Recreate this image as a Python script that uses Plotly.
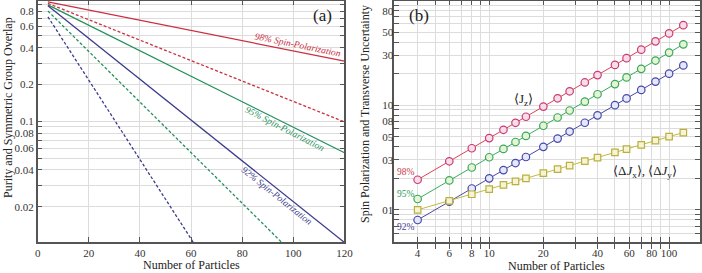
import plotly.graph_objects as go

# ---------- Panel (a) data: straight lines on log scale (endpoints)
a_x_98_solid = [4, 120]
a_y_98_solid = [0.952, 0.311]
a_x_98_dash = [4, 120]
a_y_98_dash = [0.924, 0.099]
a_x_95_solid = [4, 120]
a_y_95_solid = [0.90, 0.0553]
a_x_95_dash = [4, 95.5]
a_y_95_dash = [0.80, 0.0102]
a_x_92_solid = [4, 120]
a_y_92_solid = [0.883, 0.0102]
a_x_92_dash = [4, 60.9]
a_y_92_dash = [0.718, 0.0102]

# ---------- Panel (b) data
b_n = [4, 6, 8, 10, 12, 14, 16, 20, 24, 28, 34, 40, 50, 58, 70, 84, 100, 120]
b_jz_98 = [1.94, 2.91, 3.88, 4.85, 5.82, 6.79, 7.76, 9.7, 11.64, 13.58, 16.49, 19.4,
           24.25, 28.13, 33.95, 40.74, 48.5, 58.2]
b_jz_95 = [1.27, 1.91, 2.54, 3.18, 3.82, 4.45, 5.09, 6.36, 7.63, 8.9, 10.81, 12.72,
           15.9, 18.44, 22.26, 26.71, 31.8, 38.16]
b_jz_92 = [0.8, 1.2, 1.6, 2.0, 2.4, 2.8, 3.2, 4.0, 4.8, 5.6, 6.8, 8.0,
           10.0, 11.6, 14.0, 16.8, 20.0, 24.0]
b_djx = [1.0, 1.22, 1.41, 1.58, 1.73, 1.87, 2.0, 2.24, 2.45, 2.65, 2.92, 3.16,
         3.54, 3.81, 4.18, 4.58, 5.0, 5.48]

# ticks
a_xticks = [0, 20, 40, 60, 80, 100, 120]
a_ygrid = [0.02, 0.03, 0.04, 0.05, 0.06, 0.07, 0.08, 0.09, 0.1, 0.2, 0.3, 0.4, 0.5, 0.6, 0.7, 0.8, 0.9]
a_ylabels = ["0.02", "", "0.04", "", "0.06", "", "0.08", "", "0.1", "0.2", "", "0.4", "", "0.6", "", "0.8", ""]
b_xgrid = [3, 4, 5, 6, 7, 8, 9, 10, 20, 30, 40, 50, 60, 70, 80, 90, 100]
b_xlabels = ["", "4", "", "6", "", "8", "", "10", "20", "", "40", "", "60", "", "80", "", "100"]
b_ygrid = [0.5, 0.6, 0.7, 0.8, 0.9, 1, 2, 3, 4, 5, 6, 7, 8, 9, 10, 20, 30, 40, 50, 60, 70, 80, 90]
b_ytickvals = [1, 3, 5, 7, 10, 30, 50, 80]
b_yticktext = ["01", "03", "05", "08", "10", "30", "50", "80"]

FONT = "Liberation Serif"
RED, GREEN, BLUE = "#cc2f3f", "#23905a", "#3c3c8c"

fig = go.Figure()

def aline(x, y, color, dash):
    fig.add_trace(go.Scatter(x=x, y=y, mode="lines", xaxis="x", yaxis="y",
                             line=dict(color=color, width=1.3, dash=dash), showlegend=False,
                             hoverinfo="skip"))

aline(a_x_98_solid, a_y_98_solid, RED, "solid")
aline(a_x_98_dash, a_y_98_dash, RED, "3px,2px")
aline(a_x_95_solid, a_y_95_solid, GREEN, "solid")
aline(a_x_95_dash, a_y_95_dash, GREEN, "3px,2px")
aline(a_x_92_solid, a_y_92_solid, BLUE, "solid")
aline(a_x_92_dash, a_y_92_dash, BLUE, "3px,2px")

def bline(y, lc, mc, fc, sym):
    fig.add_trace(go.Scatter(x=b_n, y=y, mode="lines+markers", xaxis="x2", yaxis="y2",
                             line=dict(color=lc, width=1),
                             marker=dict(symbol=sym, size=7.5 if sym == "circle" else 6.5,
                                         color=fc, line=dict(color=mc, width=1.2)),
                             showlegend=False, hoverinfo="skip"))

bline(b_jz_98, "#e0404e", "#c83c78", "#f8dde6", "circle")
bline(b_jz_95, "#3aaa5c", "#3aa85a", "#e6f4d6", "circle")
bline(b_jz_92, "#4848a0", "#4848a8", "#e4e8fa", "circle")
bline(b_djx, "#c2b840", "#b8b040", "#f6f4d2", "square")

GRID = "#dcdcdc"
AX = dict(showline=True, linecolor="#555555", linewidth=1.6, mirror="allticks",
          ticks="inside", ticklen=5, tickcolor="#555555", showgrid=True, gridcolor=GRID,
          gridwidth=1.3, zeroline=False, automargin=False,
          tickfont=dict(family=FONT, size=11, color="#333333"))

fig.update_layout(
    width=702, height=273, margin=dict(l=0, r=0, t=0, b=0),
    paper_bgcolor="white", plot_bgcolor="white",
    template="none",
    font=dict(family=FONT),
    xaxis=dict(AX, domain=[0.0537, 0.4907], range=[0, 120], tickvals=a_xticks,
               anchor="y"),
    yaxis=dict(AX, domain=[0.1125, 0.998], type="log", range=[-1.99, -0.011],
               tickvals=a_ygrid, ticktext=a_ylabels, anchor="x"),
    xaxis2=dict(AX, domain=[0.5617, 0.9972], type="log", range=[0.4725, 2.172],
                tickvals=b_xgrid, ticktext=b_xlabels, anchor="y2"),
    yaxis2=dict(AX, domain=[0.1125, 0.998], type="log", range=[-0.31, 2.0],
                tickvals=b_ygrid, ticktext=[""] * len(b_ygrid), anchor="x2"),
)

# extra axis for right y labels (non-uniform label set)
fig.update_layout(yaxis3=dict(overlaying="y2", anchor="x2", type="log", range=[-0.31, 2.0],
                              tickvals=b_ytickvals, ticktext=b_yticktext, showgrid=False,
                              showline=False, ticks="", zeroline=False, automargin=False,
                              tickfont=dict(family=FONT, size=11, color="#333333")))
fig.add_trace(go.Scatter(x=[b_n[0]], y=[b_djx[0]], xaxis="x2", yaxis="y3", mode="markers",
                         marker=dict(opacity=0), showlegend=False, hoverinfo="skip"))

def ann(text, x, y, size=11, color="#222222", angle=0, italic=False):
    fig.add_annotation(text=text, x=x / 702, y=1 - y / 273, xref="paper", yref="paper",
                       showarrow=False, textangle=angle, xanchor="center", yanchor="middle",
                       font=dict(family=FONT, size=size, color=color,
                                 style="italic" if italic else "normal"))

# axis titles
ann("Number of Particles", 191, 265, size=12)
ann("Number of Particles", 556, 266, size=12)
ann("Purity and Symmetric Group Overlap", 8, 108, size=12, angle=-90)
ann("Spin Polarization and Transverse Uncertainty", 365, 114, size=12, angle=-90)

# panel labels
ann("(a)", 322, 15, size=17)
ann("(b)", 419, 15, size=17)

# line labels (a)
ann("98% Spin-Polarization", 298, 45, size=9.5, color=RED, angle=11.5, italic=True)
ann("95% Spin-Polarization", 285, 129, size=9.5, color=GREEN, angle=27, italic=True)
ann("92% Spin-Polarization", 277, 196, size=9.5, color=BLUE, angle=38.5, italic=True)

# labels (b)
ann("98%", 406, 172, size=9.5, color="#c83c48")
ann("95%", 406, 194, size=9.5, color="#2e9a55")
ann("92%", 406, 227, size=9.5, color="#44449a")
ann("⟨J<sub>z</sub>⟩", 523, 99, size=13)
ann("⟨Δ<i>J</i><sub>x</sub>⟩, ⟨Δ<i>J</i><sub>y</sub>⟩", 645, 171, size=13)

fig.write_html("out.html", config={"displayModeBar": False},
               post_script="document.body.style.margin='0px';document.body.style.overflow='hidden';")
